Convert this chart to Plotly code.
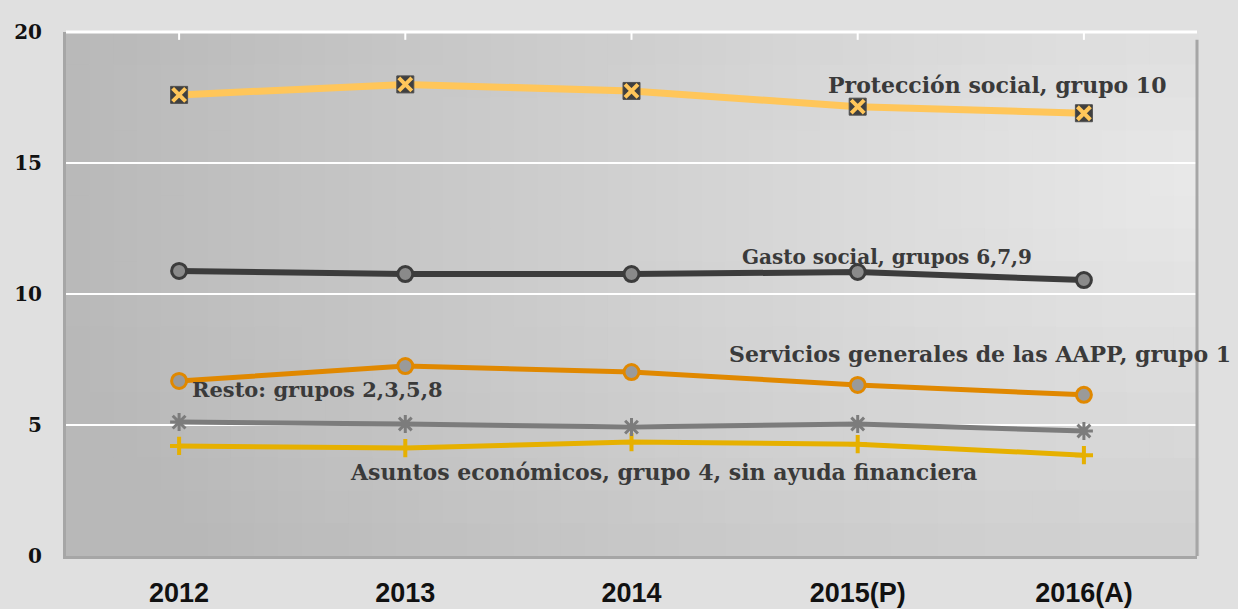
import math
import plotly.graph_objects as go

years = ["2012", "2013", "2014", "2015(P)", "2016(A)"]
proteccion = [17.6, 18.0, 17.75, 17.15, 16.9]
gasto_social = [10.88, 10.76, 10.76, 10.84, 10.53]
servicios = [6.68, 7.25, 7.02, 6.53, 6.15]
resto = [5.11, 5.04, 4.92, 5.04, 4.77]
asuntos = [4.2, 4.12, 4.35, 4.27, 3.85]

labels = [
    ("Protección social, grupo 10", 3.62, 17.98, 22),
    ("Gasto social, grupos 6,7,9", 3.13, 11.41, 20),
    ("Servicios generales de las AAPP, grupo 1", 3.54, 7.71, 22),
    ("Resto: grupos 2,3,5,8", 0.61, 6.34, 21),
    ("Asuntos económicos, grupo 4, sin ayuda financiera", 2.14, 3.21, 22),
]

xi = list(range(len(years)))
fig = go.Figure()

fig.add_trace(go.Scatter(x=xi, y=asuntos, mode="lines+markers",
    line=dict(color="#e6b000", width=5),
    marker=dict(symbol="cross-thin", size=13, line=dict(color="#e6b000", width=4))))
fig.add_trace(go.Scatter(x=xi, y=resto, mode="lines+markers",
    line=dict(color="#7c7c7c", width=5),
    marker=dict(symbol="asterisk", size=15, line=dict(color="#7c7c7c", width=3))))
fig.add_trace(go.Scatter(x=xi, y=servicios, mode="lines+markers",
    line=dict(color="#e08800", width=5),
    marker=dict(symbol="circle", size=15, color="#9a9a9a", line=dict(color="#e08800", width=3))))
fig.add_trace(go.Scatter(x=xi, y=gasto_social, mode="lines+markers",
    line=dict(color="#3c3c3c", width=6),
    marker=dict(symbol="circle", size=15, color="#8a8a8a", line=dict(color="#3c3c3c", width=3))))
fig.add_trace(go.Scatter(x=xi, y=proteccion, mode="lines+markers",
    line=dict(color="#ffc65a", width=7),
    marker=dict(symbol="square", size=17, color="#404040", line=dict(color="#505050", width=1))))
fig.add_trace(go.Scatter(x=xi, y=proteccion, mode="markers",
    marker=dict(symbol="x-thin", size=13, line=dict(color="#ffc65a", width=4))))

# background gradient (styling only)
shapes = []
nx, ny = 48, 16
for i in range(nx):
    for j in range(ny):
        cx = (i + 0.5) / nx
        cy = (j + 0.5) / ny
        d = math.sqrt((2.16 * (1 - cx)) ** 2 + (1.6 * (cy - 0.7)) ** 2)
        v = int(max(184, min(234, 233 - 22 * d)))
        shapes.append(dict(type="rect", xref="x domain", yref="y domain",
                           x0=i / nx, x1=(i + 1) / nx + 0.002, y0=j / ny, y1=(j + 1) / ny + 0.002,
                           fillcolor=f"rgb({v},{v},{v})", line=dict(width=0), layer="below"))
# frame
shapes.append(dict(type="line", xref="x domain", yref="y domain", x0=1, x1=1, y0=0, y1=0.985,
                   line=dict(color="#a6a6a6", width=3), layer="above"))
shapes.append(dict(type="line", xref="x domain", yref="y domain", x0=0, x1=1, y0=1, y1=1,
                   line=dict(color="#ffffff", width=3), layer="above"))
for k in range(len(years)):
    shapes.append(dict(type="line", xref="x", yref="y domain", x0=k, x1=k, y0=1, y1=0.985,
                       line=dict(color="#ffffff", width=2), layer="above"))

annotations = [dict(x=x, y=y, xref="x", yref="y", text=t, showarrow=False,
                    font=dict(family="DejaVu Serif", size=s, color="#3a3a3a", weight="bold"))
               for t, x, y, s in labels]

fig.update_layout(
    width=1238, height=609,
    margin=dict(l=66, r=41, t=32, b=53),
    paper_bgcolor="#e0e0e0", plot_bgcolor="#c8c8c8",
    showlegend=False,
    shapes=shapes, annotations=annotations,
    xaxis=dict(range=[-0.5, 4.5], tickvals=xi, ticktext=years, showgrid=False, zeroline=False,
               showline=True, linecolor="#a6a6a6", linewidth=3, automargin=False,
               ticks="outside", ticklen=11, tickcolor="rgba(0,0,0,0)",
               tickfont=dict(family="Liberation Sans", size=27, color="#111111", weight="bold")),
    yaxis=dict(range=[0, 20], tickvals=[0, 5, 10, 15, 20], showgrid=True, gridcolor="#ffffff",
               gridwidth=2, zeroline=False, showline=True, linecolor="#a6a6a6", linewidth=3,
               automargin=False,
               ticks="outside", ticklen=17, tickcolor="rgba(0,0,0,0)",
               tickfont=dict(family="DejaVu Serif", size=20, color="#111111", weight="bold")),
)

fig.write_html("out.html")
